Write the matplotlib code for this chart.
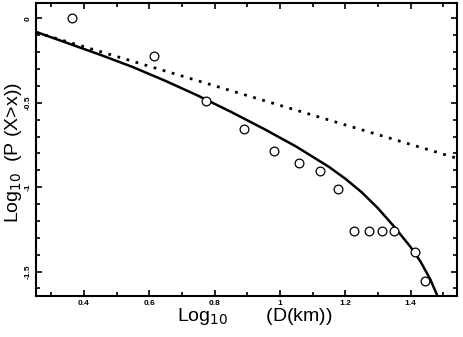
import matplotlib
matplotlib.use('Agg')
import matplotlib.pyplot as plt
from matplotlib.ticker import MultipleLocator, FixedLocator

# observed cumulative distribution (log10 diameter vs log10 P(X>x))
obs_x = [0.362, 0.614, 0.772, 0.891, 0.983, 1.058, 1.123, 1.177,
         1.228, 1.272, 1.311, 1.350, 1.414, 1.445]
obs_y = [0.0, -0.222, -0.490, -0.658, -0.784, -0.859, -0.905, -1.013,
         -1.260, -1.260, -1.260, -1.260, -1.383, -1.556]

# fitted (truncated) curve
fit_x = [0.253, 0.35, 0.45, 0.55, 0.65, 0.75, 0.85, 0.95, 1.05, 1.15,
         1.20, 1.25, 1.30, 1.35, 1.40, 1.43, 1.46, 1.49]
fit_y = [-0.08, -0.147, -0.216, -0.289, -0.371, -0.459, -0.554, -0.654,
         -0.76, -0.88, -0.95, -1.03, -1.125, -1.235, -1.355, -1.44,
         -1.545, -1.68]

# straight power-law line
pl_x = [0.253, 1.542]
pl_y = [-0.083, -0.829]

xticks = [0.4, 0.6, 0.8, 1.0, 1.2, 1.4]
xticklabels = ['0.4', '0.6', '0.8', '1', '1.2', '1.4']
yticks = [0.0, -0.5, -1.0, -1.5]
yticklabels = ['0', '-0.5', '-1', '-1.5']

plt.rcParams['font.family'] = ['Liberation Sans', 'DejaVu Sans']

fig = plt.figure(figsize=(4.63, 3.37), dpi=100)
ax = fig.add_axes([36 / 463, 1 - 296 / 337, 421 / 463, 293 / 337])

ax.plot(pl_x, pl_y, color='black', lw=2.0, linestyle=(0, (1, 2.4)))
ax.plot(fit_x, fit_y, color='black', lw=1.8, solid_joinstyle='round')
ax.plot(obs_x, obs_y, linestyle='none', marker='o', markersize=6.3,
        markerfacecolor='white', markeredgecolor='black', markeredgewidth=0.9)

ax.set_xlim(0.253, 1.542)
ax.set_ylim(-1.645, 0.091)

ax.xaxis.set_major_locator(FixedLocator(xticks))
ax.set_xticklabels(xticklabels, fontsize=6, fontweight='bold')
ax.xaxis.set_minor_locator(MultipleLocator(0.1))
ax.yaxis.set_major_locator(FixedLocator(yticks))
ax.set_yticklabels(yticklabels, fontsize=6, fontweight='bold',
                   rotation=90, va='center')
ax.yaxis.set_minor_locator(MultipleLocator(0.1))

ax.tick_params(which='both', direction='in', top=True, right=True,
               width=1.2)
ax.tick_params(which='major', length=4, pad=3)
ax.tick_params(which='minor', length=3)
for s in ax.spines.values():
    s.set_linewidth(1.5)

ax.set_xlabel(r'Log$_{10}$       (D(km))', fontsize=14)
ax.xaxis.set_label_coords(0.52, -0.035)
ax.set_ylabel(r'Log$_{10}$  (P (X>x))', fontsize=14)
ax.yaxis.set_label_coords(-0.028, 0.49)

fig.savefig('out.png', dpi=100)
